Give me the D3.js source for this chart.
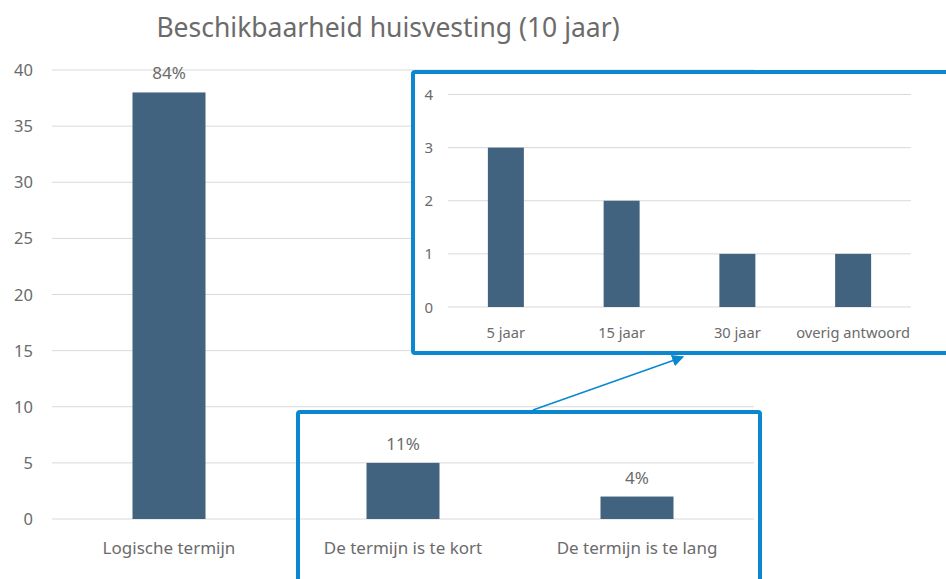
<!DOCTYPE html>
<html>
<head>
<meta charset="utf-8">
<script src="https://cdn.jsdelivr.net/npm/d3@7"></script>
<style>
  body { margin: 0; background: #fff; }
  svg text { font-family: "Noto Sans", "Open Sans", sans-serif; }
</style>
</head>
<body>
<div id="chart"></div>
<script>
// --- Data ---
const mainCategories = ["Logische termijn", "De termijn is te kort", "De termijn is te lang"];
const mainValues = [38, 5, 2];
const mainLabels = ["84%", "11%", "4%"];
const mainTicks = [0, 5, 10, 15, 20, 25, 30, 35, 40];

const insetCategories = ["5 jaar", "15 jaar", "30 jaar", "overig antwoord"];
const insetValues = [3, 2, 1, 1];
const insetTicks = [0, 1, 2, 3, 4];

const title = "Beschikbaarheid huisvesting (10 jaar)";

// --- Setup ---
const width = 946, height = 579;
const barColor = "#42637f";
const gridColor = "#d9d9d9";
const textColor = "#6b6b6b";
const boxColor = "#0a87cf";

const svg = d3.select("#chart").append("svg")
    .attr("width", width)
    .attr("height", height);

svg.append("text")
    .text(title)
    .attr("x", 388)
    .attr("y", 37)
    .attr("text-anchor", "middle")
    .attr("fill", textColor)
    .style("font-size", "26.5px");

// --- Main chart ---
const x = d3.scaleBand().domain(mainCategories).range([52, 754])
    .paddingInner(0.688).paddingOuter(0.344);
const y = d3.scaleLinear().domain([0, 40]).range([519, 70]);

const main = svg.append("g");

main.append("g").selectAll("line")
    .data(mainTicks)
    .enter().append("line")
    .attr("x1", 52).attr("x2", 754)
    .attr("y1", d => y(d)).attr("y2", d => y(d))
    .attr("stroke", gridColor)
    .attr("stroke-width", 1);

main.append("g").selectAll("text")
    .data(mainTicks)
    .enter().append("text")
    .text(d => d)
    .attr("x", 33)
    .attr("y", d => y(d) + 6)
    .attr("text-anchor", "end")
    .attr("fill", textColor)
    .style("font-size", "16.5px");

main.append("g").selectAll("rect")
    .data(mainValues)
    .enter().append("rect")
    .attr("x", (d, i) => x(mainCategories[i]))
    .attr("y", d => y(d))
    .attr("width", x.bandwidth())
    .attr("height", d => y(0) - y(d))
    .attr("fill", barColor);

main.append("g").selectAll("text")
    .data(mainLabels)
    .enter().append("text")
    .text(d => d)
    .attr("x", (d, i) => x(mainCategories[i]) + x.bandwidth() / 2)
    .attr("y", (d, i) => y(mainValues[i]) - 13)
    .attr("text-anchor", "middle")
    .attr("fill", textColor)
    .style("font-size", "17px");

main.append("g").selectAll("text")
    .data(mainCategories)
    .enter().append("text")
    .text(d => d)
    .attr("x", d => x(d) + x.bandwidth() / 2)
    .attr("y", 554)
    .attr("text-anchor", "middle")
    .attr("fill", textColor)
    .style("font-size", "17px");

// --- Highlight box around the two small bars ---
svg.append("rect")
    .attr("x", 298).attr("y", 412)
    .attr("width", 462).attr("height", 200)
    .attr("fill", "none")
    .attr("stroke", boxColor)
    .attr("stroke-width", 4)
    .attr("rx", 2);

// --- Connector arrow ---
const defs = svg.append("defs");
defs.append("marker")
    .attr("id", "arrow")
    .attr("viewBox", "0 0 10 10")
    .attr("refX", 9).attr("refY", 5)
    .attr("markerWidth", 8).attr("markerHeight", 8)
    .attr("orient", "auto")
    .append("path")
    .attr("d", "M0,0 L10,5 L0,10 z")
    .attr("fill", boxColor);

svg.append("line")
    .attr("x1", 533).attr("y1", 410)
    .attr("x2", 683).attr("y2", 357)
    .attr("stroke", boxColor)
    .attr("stroke-width", 1.5)
    .attr("marker-end", "url(#arrow)");

// --- Inset chart ---
const inset = svg.append("g");

inset.append("rect")
    .attr("x", 413).attr("y", 72)
    .attr("width", 545).attr("height", 281)
    .attr("fill", "#fff")
    .attr("stroke", boxColor)
    .attr("stroke-width", 4)
    .attr("rx", 2);

const ix = d3.scaleBand().domain(insetCategories).range([448, 911])
    .paddingInner(0.689).paddingOuter(0.3445);
const iy = d3.scaleLinear().domain([0, 4]).range([307, 94.5]);

inset.append("g").selectAll("line")
    .data(insetTicks)
    .enter().append("line")
    .attr("x1", 448).attr("x2", 911)
    .attr("y1", d => iy(d)).attr("y2", d => iy(d))
    .attr("stroke", gridColor)
    .attr("stroke-width", 1);

inset.append("g").selectAll("text")
    .data(insetTicks)
    .enter().append("text")
    .text(d => d)
    .attr("x", 433)
    .attr("y", d => iy(d) + 5.5)
    .attr("text-anchor", "end")
    .attr("fill", textColor)
    .style("font-size", "15px");

inset.append("g").selectAll("rect")
    .data(insetValues)
    .enter().append("rect")
    .attr("x", (d, i) => ix(insetCategories[i]))
    .attr("y", d => iy(d))
    .attr("width", ix.bandwidth())
    .attr("height", d => iy(0) - iy(d))
    .attr("fill", barColor);

inset.append("g").selectAll("text")
    .data(insetCategories)
    .enter().append("text")
    .text(d => d)
    .attr("x", d => ix(d) + ix.bandwidth() / 2)
    .attr("y", 338)
    .attr("text-anchor", "middle")
    .attr("fill", textColor)
    .style("font-size", "14.7px");
</script>
</body>
</html>
